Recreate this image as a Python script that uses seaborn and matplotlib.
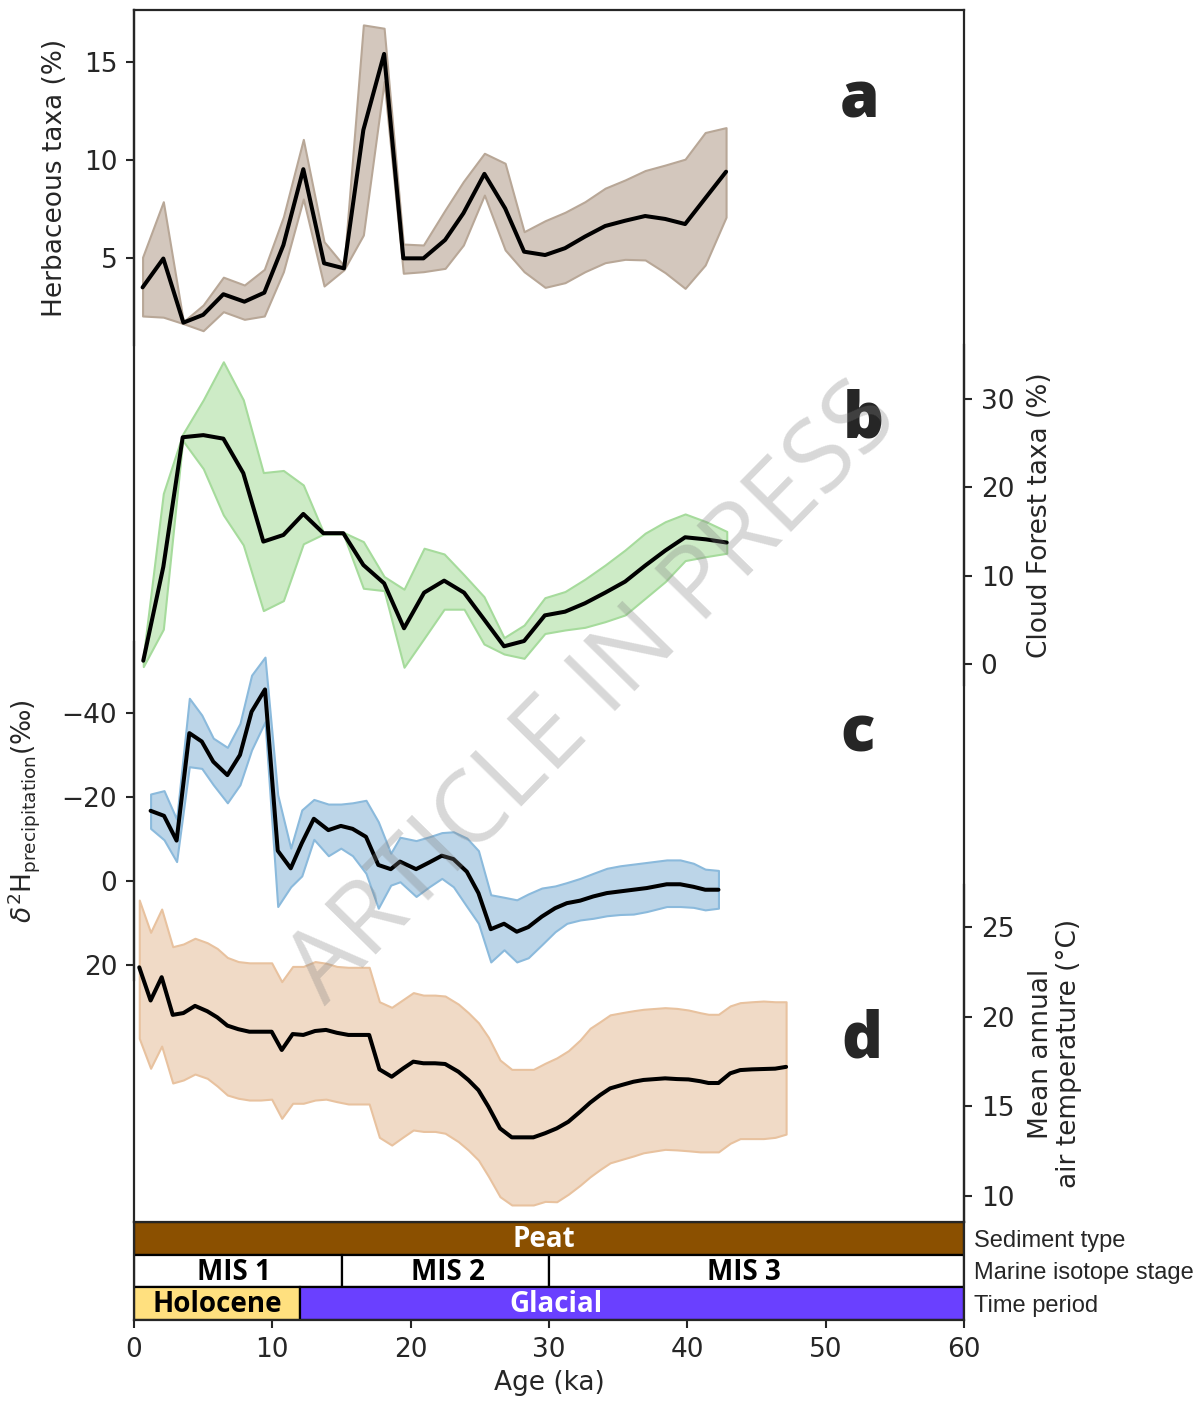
import matplotlib
matplotlib.use("Agg")
import matplotlib.pyplot as plt
import seaborn as sns

# ---------------- data ----------------
age_a = [0.62, 2.12, 3.57, 5.0, 6.46, 7.98, 9.42, 10.8, 12.24, 13.74, 15.18, 16.58, 18.08, 19.47, 20.92,
         22.49, 23.81, 25.33, 26.83, 28.2, 29.72, 31.16, 32.6, 34.06, 35.5, 36.95, 38.4, 39.84, 41.29, 42.8]
herb_mean = [3.5, 4.97, 1.7, 2.1, 3.15, 2.77, 3.23, 5.66, 9.53, 4.73, 4.47, 11.53, 15.41, 4.98, 4.98,
             5.92, 7.28, 9.29, 7.53, 5.32, 5.15, 5.5, 6.09, 6.63, 6.9, 7.14, 6.99, 6.73, 8.04, 9.4]
herb_upper = [5.04, 7.87, 1.75, 2.6, 4.02, 3.62, 4.42, 7.1, 11.05, 5.83, 4.6, 16.89, 16.72, 5.71, 5.66,
              7.45, 8.9, 10.34, 9.83, 6.34, 6.9, 7.33, 7.87, 8.56, 8.98, 9.46, 9.74, 10.04, 11.4, 11.65]
herb_lower = [2.04, 1.98, 1.65, 1.29, 2.26, 1.87, 2.04, 4.3, 8.01, 3.57, 4.4, 6.17, 14.0, 4.22, 4.3,
              4.47, 5.66, 8.21, 5.41, 4.3, 3.5, 3.74, 4.3, 4.76, 4.93, 4.9, 4.25, 3.45, 4.64, 7.08]

age_b = [0.67, 2.12, 3.52, 5.01, 6.46, 7.9, 9.35, 10.8, 12.24, 13.69, 15.13, 16.58, 18.08, 19.52, 20.97,
         22.42, 23.86, 25.3, 26.75, 28.2, 29.7, 31.16, 32.6, 34.06, 35.5, 36.95, 38.4, 39.84, 41.36, 42.85]
cloud_mean = [0.37, 11.0, 25.66, 25.9, 25.5, 21.6, 13.85, 14.6, 16.98, 14.8, 14.8, 11.2, 9.13, 4.04, 8.07,
              9.43, 8.07, 5.06, 2.0, 2.6, 5.5, 5.92, 6.87, 8.07, 9.32, 11.13, 12.83, 14.34, 14.1, 13.74]
cloud_upper = [0.8, 19.3, 26.0, 29.9, 34.2, 29.9, 21.66, 21.9, 20.26, 14.9, 14.9, 13.85, 9.9, 8.46, 13.1,
               12.45, 10.08, 7.62, 2.98, 4.4, 7.5, 8.2, 9.6, 11.2, 12.9, 14.8, 16.1, 16.98, 16.1, 15.0]
cloud_lower = [-0.3, 3.93, 25.3, 22.1, 16.87, 13.47, 6.04, 7.17, 13.6, 14.7, 14.7, 8.57, 8.3, -0.37, 2.9,
               6.2, 6.2, 2.26, 1.13, 0.64, 3.45, 3.85, 4.15, 4.79, 5.55, 7.43, 9.32, 11.7, 12.15, 12.53]

age_c = [1.2, 2.17, 3.08, 4.0, 4.9, 5.73, 6.75, 7.66, 8.5, 9.47, 10.39, 11.33, 12.13, 13.0, 14.05,
         14.95, 15.8, 16.77, 17.66, 18.56, 19.23, 20.39, 21.34, 22.25, 23.09, 24.06, 24.9, 25.79, 26.75,
         27.67, 28.5, 29.48, 30.44, 31.29, 32.25, 33.2, 34.18, 35.14, 36.1, 37.07, 38.51, 39.48, 40.44,
         41.29, 42.25]
d2h_mean = [-16.7, -15.5, -9.6, -35.2, -33.2, -28.4, -25.2, -30.0, -40.3, -45.6, -7.2, -3.0, -9.0, -14.8,
            -12.1, -13.1, -12.4, -10.5, -3.8, -2.8, -4.6, -2.8, -4.4, -6.0, -5.2, -2.2, 2.9, 11.5, 10.2,
            12.1, 11.0, 8.5, 6.5, 5.3, 4.7, 3.7, 2.9, 2.5, 2.1, 1.7, 0.8, 0.8, 1.4, 2.1, 2.1]
d2h_upper = [-20.7, -21.5, -14.7, -43.5, -39.5, -34.0, -31.8, -37.5, -49.0, -53.3, -20.5, -7.8, -16.9,
             -19.4, -18.3, -18.3, -18.6, -19.2, -14.1, -6.6, -10.4, -9.6, -10.5, -11.5, -11.7, -10.2,
             -7.2, 3.3, 3.9, 4.5, 3.1, 1.7, 1.2, 0.4, -0.6, -1.8, -3.0, -3.6, -4.0, -4.4, -5.0, -5.0,
             -4.2, -2.8, -2.5]
d2h_lower = [-12.5, -9.8, -4.6, -27.2, -26.8, -22.9, -18.6, -22.9, -31.2, -37.9, 6.1, 1.4, -1.2, -9.9,
             -6.0, -7.8, -6.0, -1.8, 6.5, 1.0, 0.2, 3.7, 1.4, -0.6, 1.4, 6.1, 10.1, 19.3, 16.4, 19.3,
             18.3, 15.2, 12.1, 10.1, 9.3, 8.9, 8.3, 8.0, 7.9, 7.3, 6.1, 6.1, 6.3, 6.9, 6.5]

age_d = [0.38, 1.2, 2.0, 2.8, 3.57, 4.41, 5.3, 6.02, 6.75, 7.54, 8.34, 9.15, 9.95, 10.68, 11.47, 12.24,
         13.09, 13.88, 14.66, 15.5, 17.0, 17.74, 18.63, 19.47, 20.19, 20.92, 21.76, 22.49, 23.45, 24.17,
         24.9, 25.62, 26.46, 27.31, 28.87, 29.72, 30.56, 31.4, 32.25, 32.97, 33.7, 34.42, 35.26, 36.1,
         36.83, 38.39, 39.24, 40.08, 40.93, 41.53, 42.25, 43.1, 43.82, 44.66, 45.5, 46.35, 47.14]
temp_mean = [22.75, 20.9, 22.2, 20.1, 20.2, 20.6, 20.3, 19.96, 19.5, 19.3, 19.16, 19.16, 19.16, 18.14,
             19.03, 18.98, 19.2, 19.26, 19.1, 18.98, 18.98, 17.06, 16.65, 17.12, 17.49, 17.4, 17.4, 17.36,
             16.93, 16.47, 15.9, 14.98, 13.77, 13.27, 13.27, 13.5, 13.77, 14.14, 14.7, 15.2, 15.63, 16.0,
             16.19, 16.37, 16.47, 16.56, 16.52, 16.5, 16.4, 16.3, 16.3, 16.84, 17.02, 17.06, 17.08, 17.1,
             17.2]
temp_upper = [26.5, 24.7, 26.0, 23.9, 24.05, 24.37, 24.12, 23.8, 23.3, 23.07, 23.0, 23.0, 23.0, 21.95,
              22.8, 22.8, 23.07, 22.98, 22.8, 22.75, 22.75, 20.83, 20.52, 20.96, 21.34, 21.2, 21.2, 21.15,
              20.7, 20.22, 19.66, 18.85, 17.58, 17.06, 17.06, 17.4, 17.7, 18.1, 18.7, 19.35, 19.72, 20.1,
              20.22, 20.33, 20.41, 20.5, 20.46, 20.37, 20.22, 20.13, 20.13, 20.6, 20.78, 20.83, 20.87,
              20.83, 20.83]
temp_lower = [18.79, 17.12, 18.36, 16.3, 16.47, 16.8, 16.56, 16.13, 15.63, 15.45, 15.35, 15.35, 15.4,
              14.33, 15.17, 15.17, 15.35, 15.4, 15.26, 15.13, 15.13, 13.27, 12.84, 13.3, 13.68, 13.6, 13.6,
              13.5, 13.03, 12.56, 12.0, 11.1, 9.96, 9.5, 9.5, 9.7, 9.68, 10.1, 10.6, 11.07, 11.48, 11.85,
              12.04, 12.23, 12.41, 12.6, 12.57, 12.52, 12.46, 12.46, 12.46, 12.94, 13.2, 13.2, 13.2,
              13.27, 13.45]

# stratigraphy bars
strat_rows = ["Sediment type", "Marine isotope stage", "Time period"]
seg_row = ["Sediment type", "Marine isotope stage", "Marine isotope stage", "Marine isotope stage",
           "Time period", "Time period"]
seg_start = [0, 0, 15, 30, 0, 12]
seg_end = [60, 15, 30, 60, 12, 60]
seg_label = ["Peat", "MIS 1", "MIS 2", "MIS 3", "Holocene", "Glacial"]

age_ticks = [0, 10, 20, 30, 40, 50, 60]

# ---------------- style ----------------
sns.set_style("ticks")
plt.rcParams["font.family"] = ["DejaVu Sans"]
plt.rcParams["axes.linewidth"] = 1.6
plt.rcParams["axes.unicode_minus"] = True

FS = 19
W, H = 1202, 1401
fig = plt.figure(figsize=(W / 100, H / 100), dpi=100)
L, R = 134, 964


def rect(top, bottom):
    return [L / W, 1 - bottom / H, (R - L) / W, (bottom - top) / H]


TICK = dict(labelsize=FS, length=6, width=1.5, pad=6)

# background frame
frame = fig.add_axes(rect(10, 1222))
frame.set_facecolor("none")
frame.set_xticks([])
frame.set_yticks([])
frame.spines["bottom"].set_visible(False)


def panel(top, bottom, x, mean, lo, hi, face, edge, ylim, yticks, side, label, lab_x, letter, letter_xy,
          invert=False):
    ax = fig.add_axes(rect(top, bottom))
    ax.set_facecolor("none")
    ax.fill_between(x, lo, hi, facecolor=face, edgecolor=edge, linewidth=1.5, zorder=1)
    sns.lineplot(x=x, y=mean, ax=ax, color="black", linewidth=2.9, zorder=2, errorbar=None)
    ax.set_xlim(0, 60)
    if invert:
        ax.set_ylim(ylim[1], ylim[0])
    else:
        ax.set_ylim(*ylim)
    ax.set_yticks(yticks)
    ax.set_xticks([])
    ax.set_xlabel("")
    for s in ["left", "right", "top", "bottom"]:
        ax.spines[s].set_visible(s == side)
    if side == "right":
        ax.yaxis.tick_right()
        ax.yaxis.set_label_position("right")
    ax.tick_params(axis="y", **TICK)
    ax.set_ylabel(label, fontsize=FS, multialignment="center", linespacing=1.1)
    ax.yaxis.set_label_coords(lab_x, 0.5)
    fig.text(letter_xy[0] / W, 1 - letter_xy[1] / H, letter, fontsize=46, fontweight="heavy",
             family=["Open Sans", "DejaVu Sans"], ha="center", va="baseline")
    return ax


panel(10, 345, age_a, herb_mean, herb_lower, herb_upper, "#d3c7bd", "#b8a797",
      (0.56, 17.65), [5, 10, 15], "left", "Herbaceous taxa (%)", -0.0795, "a", (860, 117))
panel(345, 685, age_b, cloud_mean, cloud_lower, cloud_upper, "#cdebc6", "#a6db9c",
      (-2.38, 36.1), [0, 10, 20, 30], "right", "Cloud Forest taxa (%)", 1.0759, "b", (863, 437))
panel(642, 980, age_c, d2h_mean, d2h_lower, d2h_upper, "#bcd5e8", "#8bbadc",
      (-56.9, 23.6), [-40, -20, 0, 20], "left", r"$\delta^2$H$_{\rm precipitation}$(‰)", -0.111,
      "c", (858, 752), invert=True)
panel(885, 1222, age_d, temp_mean, temp_lower, temp_upper, "#f0dac6", "#e8c29f",
      (8.55, 27.34), [10, 15, 20, 25], "right", "Mean annual\nair temperature (°C)", 1.077,
      "d", (862, 1058))

# stratigraphy axis
bar = fig.add_axes(rect(1222, 1320))
row_pos = {r: 2.5 - i for i, r in enumerate(strat_rows)}
fills = {"Peat": "#8b5000", "Holocene": "#ffe07f", "Glacial": "#6a40ff"}
txtcol = {"Peat": "white", "Glacial": "white"}
text_at = {"Peat": 29.6, "MIS 1": 7.2, "MIS 2": 22.7, "MIS 3": 44.1, "Holocene": 6.0, "Glacial": 30.5}
for r, s, e, lab in zip(seg_row, seg_start, seg_end, seg_label):
    y = row_pos[r]
    bar.barh(y, e - s, left=s, height=1.0, color=fills.get(lab, "white"), edgecolor="black",
             linewidth=1.6, zorder=1)
    bar.text(text_at.get(lab, (s + e) / 2), y - 0.04, lab, ha="center", va="center", fontsize=20,
             fontweight="bold", family=["Open Sans", "DejaVu Sans"], color=txtcol.get(lab, "black"),
             zorder=3)
bar.set_xlim(0, 60)
bar.set_ylim(0, 3)
bar.set_xticks(age_ticks)
bar.set_yticks([row_pos[r] for r in strat_rows])
bar.set_yticklabels(strat_rows, family=["Liberation Sans", "DejaVu Sans"], fontsize=17)
bar.yaxis.tick_right()
bar.tick_params(axis="y", length=0, pad=7)
bar.tick_params(axis="x", **TICK)
bar.set_xlabel("Age (ka)", fontsize=FS, labelpad=5)

# watermark
fig.text(594 / W, 1 - 695 / H, "ARTICLE IN PRESS", rotation=45.5, ha="center", va="center",
         rotation_mode="anchor", fontsize=72, family=["Open Sans", "DejaVu Sans"], fontweight="normal",
         color="#7f7f7f", alpha=0.30, zorder=10)

fig.savefig("out.png", dpi=100)
